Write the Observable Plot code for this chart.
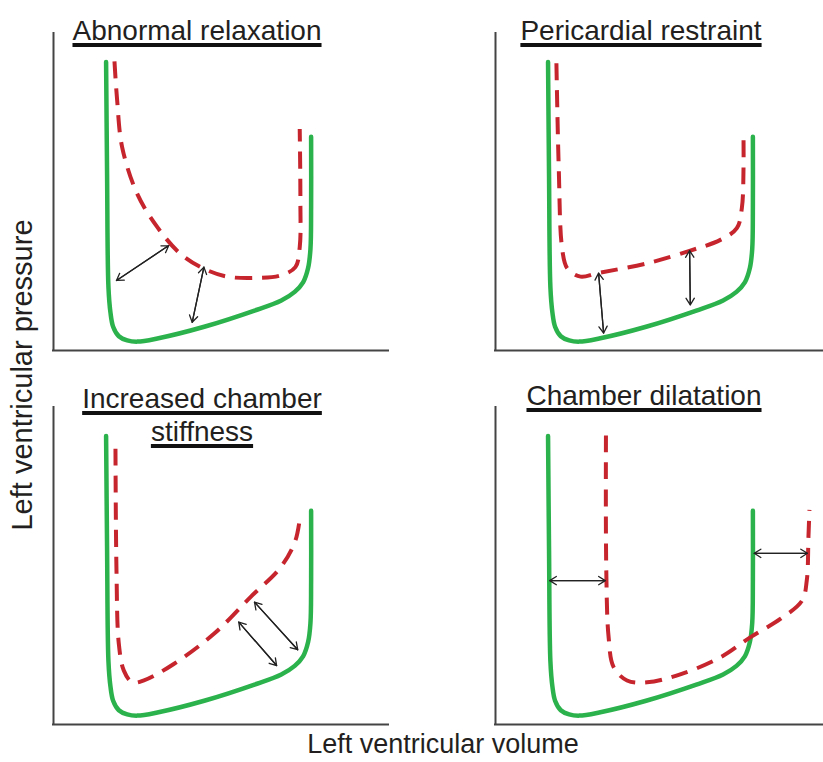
<!DOCTYPE html>
<html>
<head>
<meta charset="utf-8">
<script src="https://cdn.jsdelivr.net/npm/d3@7"></script>
<script src="https://cdn.jsdelivr.net/npm/@observablehq/plot@0.6"></script>
<style>
  html, body { margin: 0; padding: 0; background: #fff; }
  #chart {
    position: relative; width: 823px; height: 762px; overflow: hidden;
    font-family: "Liberation Sans", Arial, Helvetica, sans-serif; color: #231f20;
  }
  #chart svg { position: absolute; background: transparent; }
  .title {
    position: absolute; width: 340px; text-align: center;
    font-size: 28px; line-height: 33px; white-space: pre;
  }
  .title span {
    text-decoration: underline; text-decoration-color: #111;
    text-decoration-thickness: 4px; text-underline-offset: 3px;
    text-decoration-skip-ink: none;
  }
  .ylabel {
    position: absolute; left: -178px; top: 358px; width: 400px;
    height: 34px; line-height: 34px; text-align: center; font-size: 29px;
    transform: rotate(-90deg);
  }
  .xlabel {
    position: absolute; left: 243px; top: 728px; width: 400px;
    line-height: 32px; text-align: center; font-size: 27px;
  }
</style>
</head>
<body>
<div id="chart"></div>
<script>
// Diastolic pressure–volume relations: [volume, pressure] in arbitrary units (0–100).

const panelTitles = [
  "Abnormal relaxation",
  "Pericardial restraint",
  "Increased chamber\nstiffness",
  "Chamber dilatation"
];

// Normal relation (solid green), shared by all panels
const normalCurve = [
  [15.7, 91], [16.0, 55], [16.4, 20], [17.0, 12], [17.8, 7.5], [19.5, 4.5],
  [22, 3.2], [25, 2.8], [31, 3.8], [45, 7.5], [60, 12.6], [68, 15.8],
  [72, 18.5], [74.5, 21.5], [76.0, 26], [76.7, 32], [76.9, 45], [76.9, 67.4]
];

// Altered relations (dashed red)
const relaxationCurve = [
  [18.2, 91.2], [19.0, 78.9], [20.5, 64.1], [25.0, 49.4], [31.0, 38.9],
  [37.9, 30.5], [44.9, 25.8], [51.9, 23.3], [60.8, 22.9], [67.8, 23.7],
  [72.2, 26.3], [73.5, 32.6], [73.7, 47.3], [73.5, 69.9]
];
const restraintCurve = [
  [18.2, 90.6], [18.9, 57.5], [19.9, 32.3], [21.4, 26.0], [25.4, 23.3],
  [30.4, 24.4], [45.3, 27.5], [58.2, 31.5], [67.2, 34.9], [72.1, 38.6],
  [73.6, 44.9], [74.1, 57.5], [74.1, 67.2]
];
const stiffnessCurve = [
  [18.5, 87.0], [18.8, 48.6], [19.5, 25.5], [21.0, 17.0], [23.5, 13.3],
  [27.0, 13.9], [35.9, 19.1], [47.9, 28.6], [58.8, 40.2], [67.8, 49.6],
  [72.2, 58.0], [73.7, 66.5]
];
const dilatationCurve = [
  [33.0, 91.2], [33.1, 48.6], [33.8, 27.5], [35.3, 18.1], [39.3, 13.9],
  [45.3, 13.3], [55.2, 15.8], [67.2, 21.2], [76.1, 27.5], [85.1, 33.3],
  [91.6, 39.1], [93.0, 45.4], [93.5, 59.1], [93.8, 67.7]
];

// Double-headed arrows: [v1, p1, v2, p2]
const relaxationArrows = [[18.8, 22.1, 34.4, 33.1], [44.9, 26.3, 41.4, 8.9]];
const restraintArrows = [[30.8, 24.4, 32.3, 5.5], [58.0, 31.5, 58.2, 14.4]];
const stiffnessArrows = [[55.3, 32.3, 66.6, 18.6], [60.0, 38.6, 72.9, 23.6]];
const dilatationArrows = [[16.2, 45.4, 32.8, 45.4], [77.3, 54.0, 93.2, 54.0]];

const GREEN = "#2bb24c";
const RED = "#c6252e";
const AXIS = "#444";
const ARROW = "#222";

const panels = [
  {curve: relaxationCurve, arrows: relaxationArrows, left: 49, top: 29, width: 343, xMax: 100, marginRight: 4, titleX: 197, titleTop: 14},
  {curve: restraintCurve, arrows: restraintArrows, left: 491, top: 29, width: 332, xMax: 98, marginRight: 0, titleX: 641, titleTop: 14},
  {curve: stiffnessCurve, arrows: stiffnessArrows, left: 49, top: 403, width: 343, xMax: 100, marginRight: 4, titleX: 202, titleTop: 382},
  {curve: dilatationCurve, arrows: dilatationArrows, left: 491, top: 403, width: 332, xMax: 98, marginRight: 0, titleX: 644, titleTop: 379}
];

const chart = document.getElementById("chart");

panels.forEach((p, i) => {
  const svg = Plot.plot({
    width: p.width,
    height: 325,
    marginLeft: 4,
    marginRight: p.marginRight,
    marginTop: 4,
    marginBottom: 4,
    x: {domain: [0, p.xMax], axis: null},
    y: {domain: [0, 100], axis: null},
    marks: [
      Plot.ruleX([0], {stroke: AXIS, strokeWidth: 2, strokeLinecap: "square"}),
      Plot.ruleY([0], {stroke: AXIS, strokeWidth: 2, strokeLinecap: "square"}),
      Plot.line(normalCurve, {
        x: (d) => d[0], y: (d) => d[1], curve: "catmull-rom",
        stroke: GREEN, strokeWidth: 4.5, strokeLinejoin: "round"
      }),
      Plot.line(p.curve, {
        x: (d) => d[0], y: (d) => d[1], curve: "catmull-rom",
        stroke: RED, strokeWidth: 4, strokeDasharray: "17,10", strokeLinecap: "butt"
      }),
      Plot.arrow(p.arrows, {
        x1: (d) => d[0], y1: (d) => d[1], x2: (d) => d[2], y2: (d) => d[3],
        stroke: ARROW, strokeWidth: 1.3, headLength: 9, headAngle: 64
      }),
      Plot.arrow(p.arrows, {
        x1: (d) => d[2], y1: (d) => d[3], x2: (d) => d[0], y2: (d) => d[1],
        stroke: ARROW, strokeWidth: 1.3, headLength: 9, headAngle: 64
      })
    ]
  });
  svg.style.left = p.left + "px";
  svg.style.top = p.top + "px";
  chart.appendChild(svg);

  const title = document.createElement("div");
  title.className = "title";
  title.style.left = (p.titleX - 170) + "px";
  title.style.top = p.titleTop + "px";
  const span = document.createElement("span");
  span.textContent = panelTitles[i];
  title.appendChild(span);
  chart.appendChild(title);
});

const ylabel = document.createElement("div");
ylabel.className = "ylabel";
ylabel.textContent = "Left ventricular pressure";
chart.appendChild(ylabel);

const xlabel = document.createElement("div");
xlabel.className = "xlabel";
xlabel.textContent = "Left ventricular volume";
chart.appendChild(xlabel);
</script>
</body>
</html>
